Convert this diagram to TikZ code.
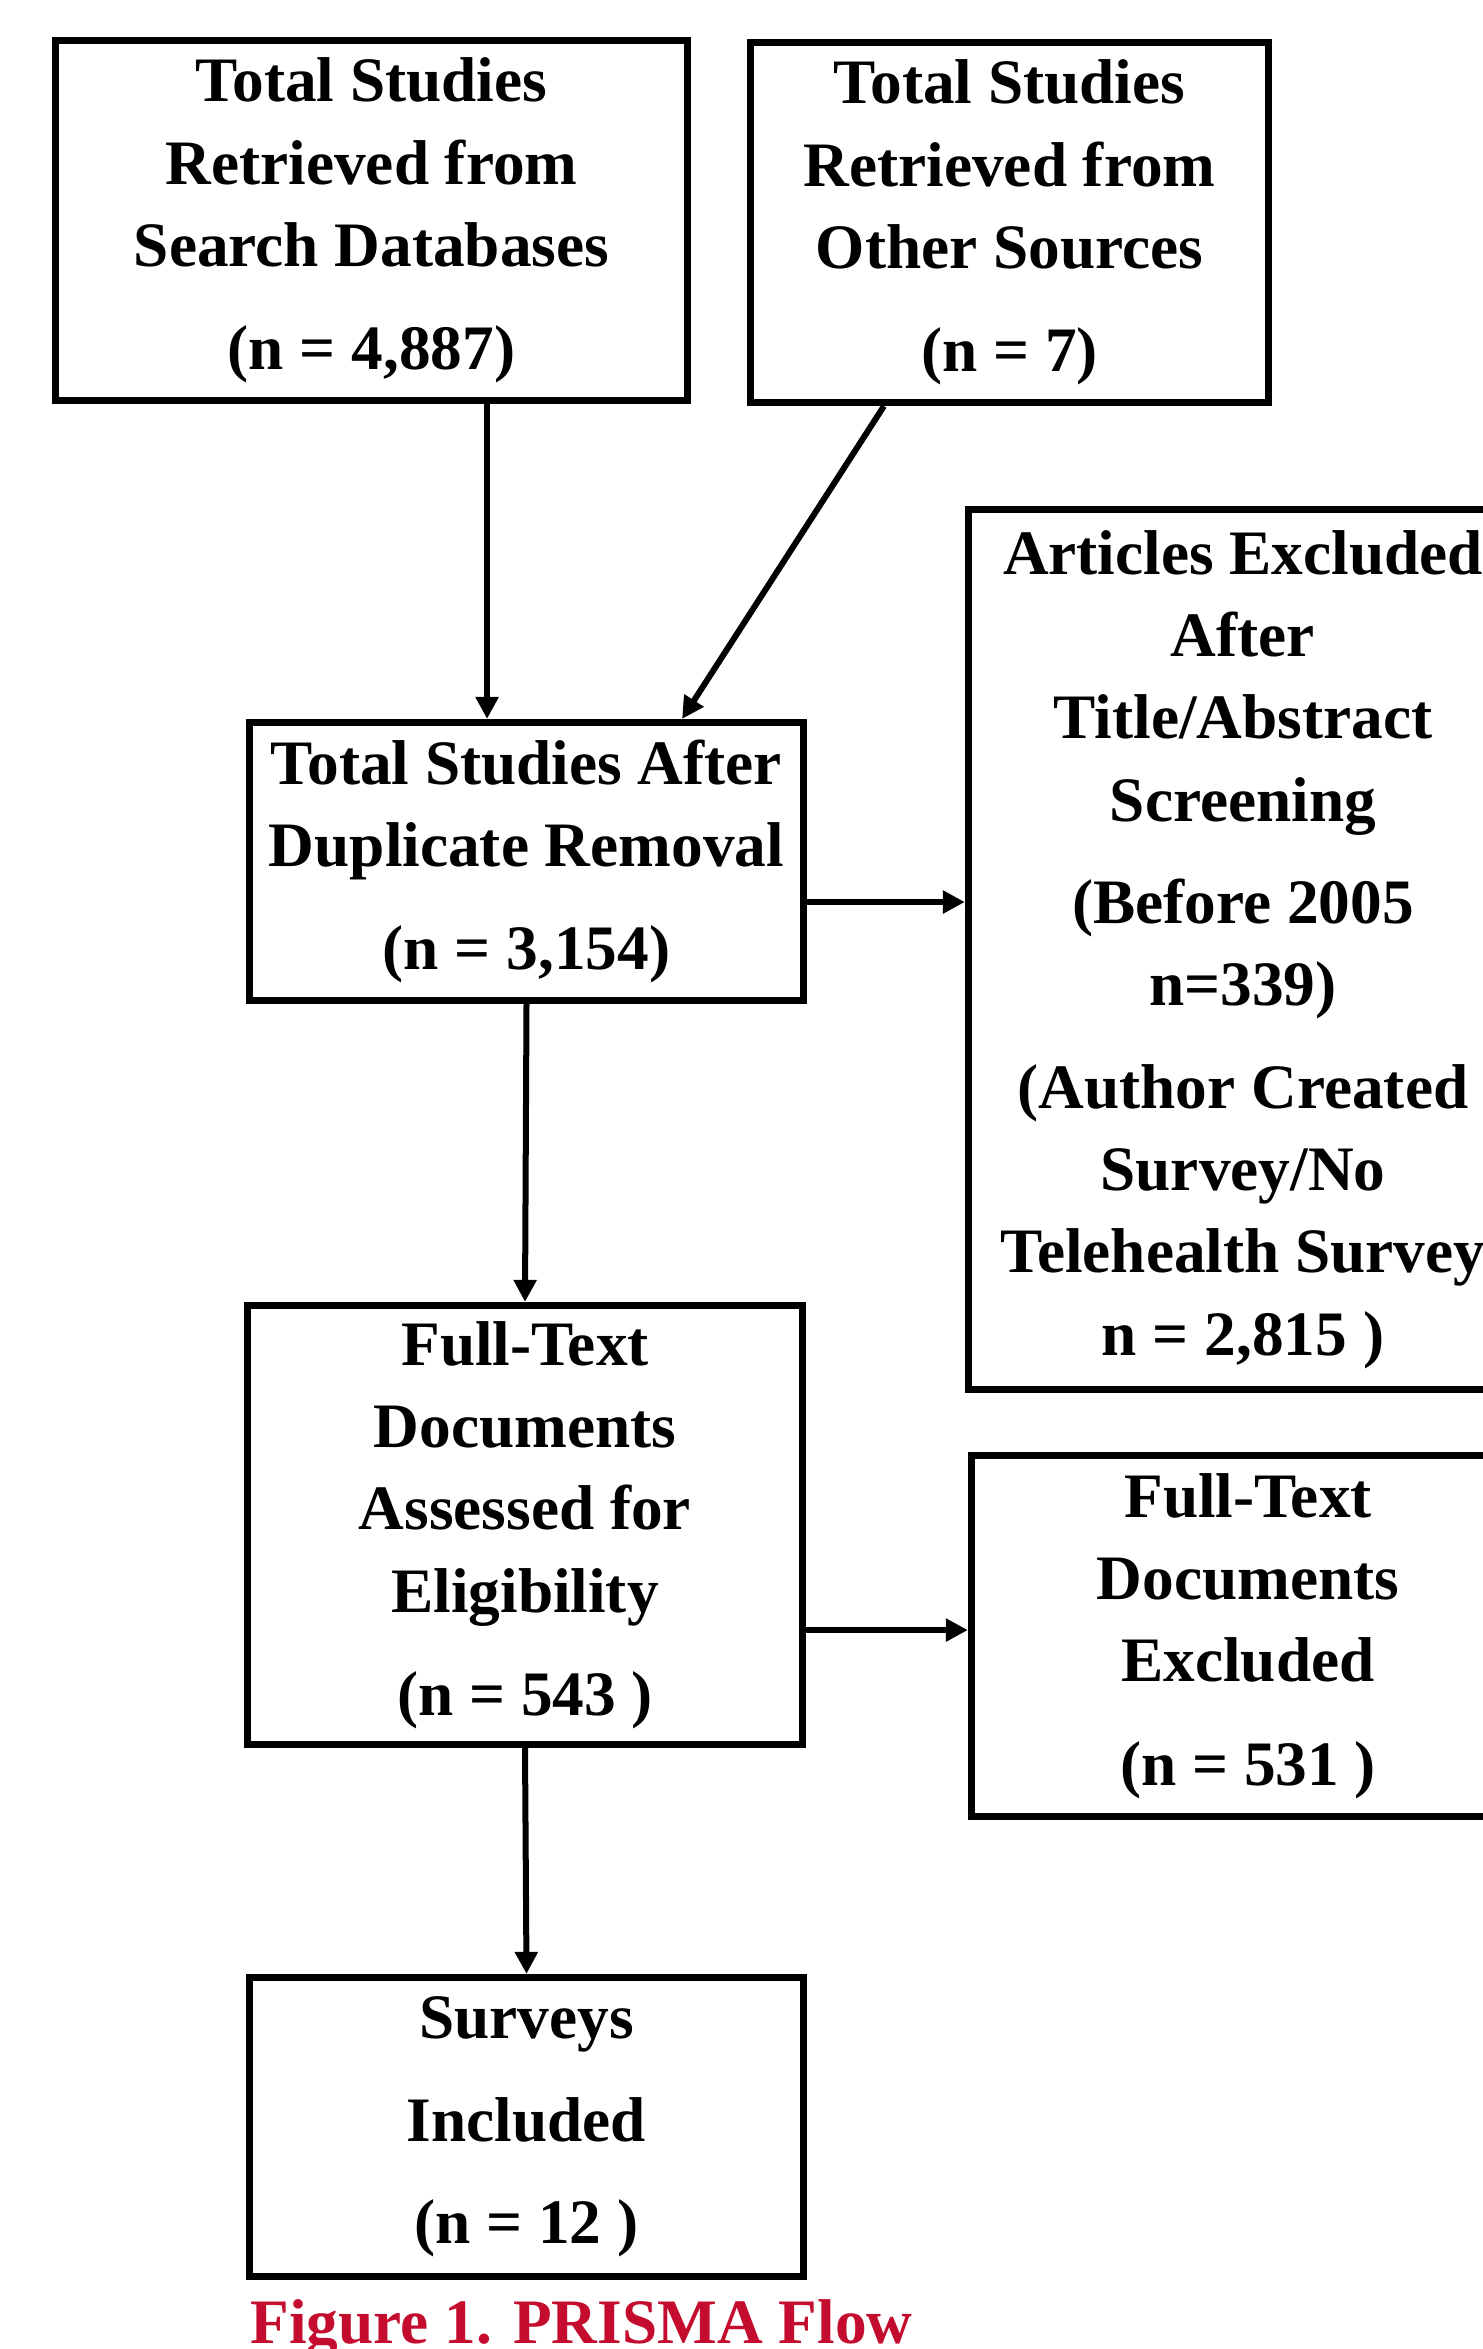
\documentclass[tikz,border=0pt]{standalone}
\usepackage{fontspec}
\setmainfont{Liberation Serif}
\usepackage{tikz}
\usetikzlibrary{arrows.meta, positioning, calc}
\definecolor{prismared}{HTML}{C40C2E}
\tikzset{
  flowbox/.style={draw=black, line width=0.07cm, align=center, inner sep=0pt,
    font=\fontsize{18}{23.4}\selectfont\bfseries,
    execute at begin node={\rule{0pt}{1.14em}}},
  flowarrow/.style={draw=black, line width=0.06cm, -{Triangle[length=0.22cm, width=0.22cm]}}
}

\begin{document}
\begin{tikzpicture}[x=0.01cm, y=-0.01cm]
    \useasboundingbox (0,0) rectangle (1483,2349);

    % ===== Identification =====
    \node[flowbox, minimum width=6.32cm, minimum height=3.60cm] (db) at (371.5,220.5)
        {Total Studies\\Retrieved from\\Search Databases\\[0.21cm](n = 4,887)};
    \node[flowbox, minimum width=5.18cm, minimum height=3.60cm] (other) at (1009.5,222.5)
        {Total Studies\\Retrieved from\\Other Sources\\[0.21cm](n = 7)};

    % ===== Screening =====
    \node[flowbox, minimum width=5.54cm, minimum height=2.78cm] (dedup) at (526.5,861.5)
        {Total Studies After\\Duplicate Removal\\[0.21cm](n = 3,154)};
    \node[flowbox, minimum width=5.49cm, minimum height=8.80cm] (excl) at (1243,949.5)
        {Articles Excluded\\After\\Title/Abstract\\Screening\\[0.2cm](Before 2005\\n=339)\\[0.2cm](Author Created\\Survey/No\\Telehealth Survey\\n = 2,815 )};

    % ===== Eligibility =====
    \node[flowbox, minimum width=5.55cm, minimum height=4.39cm] (fulltext) at (525,1525)
        {Full-Text\\Documents\\Assessed for\\Eligibility\\[0.21cm](n = 543 )};
    \node[flowbox, minimum width=5.53cm, minimum height=3.61cm] (ftexcl) at (1248,1636)
        {Full-Text\\Documents\\Excluded\\[0.21cm](n = 531 )};

    % ===== Included =====
    \node[flowbox, minimum width=5.54cm, minimum height=2.99cm] (incl) at (526.5,2127)
        {Surveys\\[0.2cm]Included\\[0.2cm](n = 12 )};

    % Caption
    \node[anchor=base west, inner sep=0pt, text=prismared,
        font=\fontsize{18}{22}\selectfont\bfseries] (caption) at (250,2343) {Figure 1. PRISMA Flow};

    % Arrows
    \draw[flowarrow] ([xshift=1.155cm]db.south) -- ([xshift=1.155cm]db.south |- dedup.north);
    \draw[flowarrow] ([xshift=-1.255cm]other.south) -- ([xshift=1.555cm]dedup.north);
    \draw[flowarrow] ([yshift=-0.405cm]dedup.east) -- ([yshift=-0.405cm]dedup.east -| excl.west);
    \draw[flowarrow] (dedup.south) -- (fulltext.north);
    \draw[flowarrow] ([yshift=-1.05cm]fulltext.east) -- ([yshift=-1.05cm]fulltext.east -| ftexcl.west);
    \draw[flowarrow] (fulltext.south) -- (incl.north);
\end{tikzpicture}
\end{document}
